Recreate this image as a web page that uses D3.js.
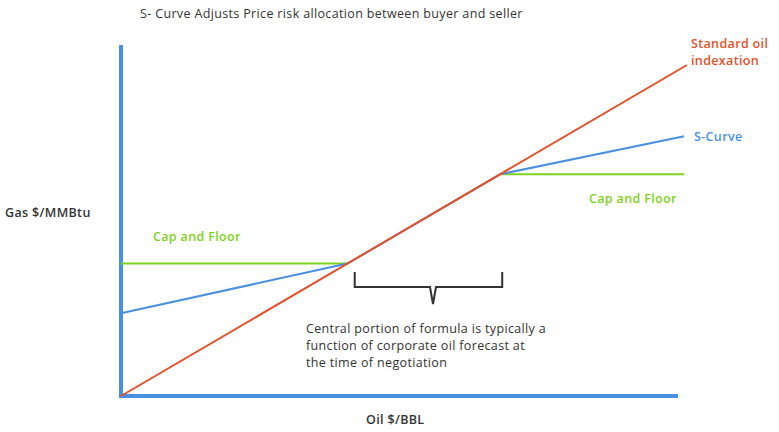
<!DOCTYPE html><html><head><meta charset="utf-8">
<script src="https://cdn.jsdelivr.net/npm/d3@7"></script>
<style>body{margin:0;background:#fff}text{font-family:"Open Sans",sans-serif;letter-spacing:0.35px}</style></head><body>
<svg id="c" width="779" height="432"></svg>
<script>
const oilLine=[[0,0],[100,100]];
const capFloorLow=[[0,40],[40,40]];
const capFloorHigh=[[67,67],[99.5,67]];
const sCurve=[[0,25],[40,40],[67,67],[99.5,78.5]];
const braceRange=[42,67];
const svg=d3.select("#c");
const x=d3.scaleLinear().domain([0,100]).range([121,687]);
const y=d3.scaleLinear().domain([0,100]).range([396,65]);
const line=d3.line().x(d=>x(d[0])).y(d=>y(d[1]));
svg.append("text").attr("x",140).attr("y",18).attr("font-size",12.5).attr("fill","#333").attr("font-weight",500).text("S- Curve Adjusts Price risk allocation between buyer and seller");
svg.append("line").attr("x1",121).attr("x2",121).attr("y1",45).attr("y2",398).attr("stroke","#4a90e2").attr("stroke-width",4);
svg.append("line").attr("x1",119).attr("x2",678).attr("y1",396).attr("y2",396).attr("stroke","#4a90e2").attr("stroke-width",4);
svg.append("path").attr("d",line(capFloorLow)).attr("stroke","#7ed321").attr("stroke-width",2).attr("fill","none");
svg.append("path").attr("d",line(capFloorHigh)).attr("stroke","#7ed321").attr("stroke-width",2).attr("fill","none");
svg.append("path").attr("d",line(sCurve)).attr("stroke","#4a90e2").attr("stroke-width",2).attr("fill","none");
svg.append("path").attr("d",line(oilLine)).attr("stroke","#e2522b").attr("stroke-width",2).attr("fill","none");
const b0=x(braceRange[0])-4,b1=x(braceRange[1])+2,bm=433;
svg.append("path").attr("d",`M${b0},272 L${b0},287 L${bm-3},287 L${bm},304 L${bm+3},287 L${b1},287 L${b1},272`).attr("stroke","#333").attr("stroke-width",2).attr("fill","none");
const t=(xx,yy,s,c,w)=>svg.append("text").attr("x",xx).attr("y",yy).attr("font-size",12.5).attr("fill",c).attr("font-weight",w||600).text(s);
t(5,217,"Gas $/MMBtu","#333");
t(366,424,"Oil $/BBL","#333");
t(153,241,"Cap and Floor","#7ed321");
t(589,203,"Cap and Floor","#7ed321");
t(694,141,"S-Curve","#4a90e2");
t(691,48,"Standard oil","#e2522b");
t(691,65,"indexation","#e2522b");
t(306,333,"Central portion of formula is typically a","#333",500);
t(306,350,"function of corporate oil forecast at","#333",500);
t(306,367,"the time of negotiation","#333",500);
</script></body></html>
